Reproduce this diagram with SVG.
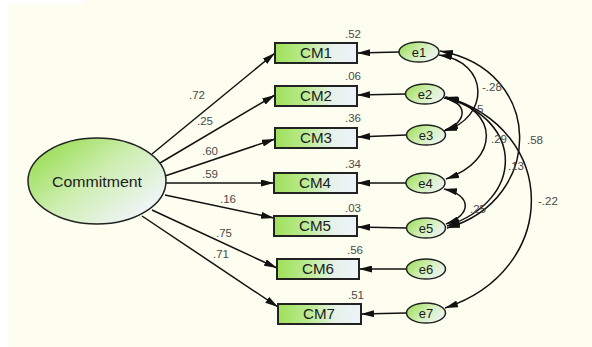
<svg xmlns="http://www.w3.org/2000/svg" width="592" height="347" viewBox="0 0 592 347">
  <defs>
    <linearGradient id="boxFill" x1="0" y1="0" x2="1" y2="0">
      <stop offset="0" stop-color="#9fe05a"/>
      <stop offset="0.35" stop-color="#b9ea8c"/>
      <stop offset="0.7" stop-color="#e6f2ea"/>
      <stop offset="1" stop-color="#eef3fb"/>
    </linearGradient>
    <linearGradient id="latentFill" x1="0.05" y1="0.25" x2="0.85" y2="0.9">
      <stop offset="0" stop-color="#9fdf5e"/>
      <stop offset="0.45" stop-color="#cdeeb0"/>
      <stop offset="1" stop-color="#f1f5fa"/>
    </linearGradient>
    <linearGradient id="errFill" x1="0" y1="0.3" x2="1" y2="0.8">
      <stop offset="0" stop-color="#a3e064"/>
      <stop offset="0.5" stop-color="#d4f0bc"/>
      <stop offset="1" stop-color="#f0f4fa"/>
    </linearGradient>
    <marker id="head" viewBox="0 0 13 7" refX="13" refY="3.5" markerWidth="13" markerHeight="7" markerUnits="userSpaceOnUse" orient="auto-start-reverse">
      <path d="M0,0 L13,3.5 L0,7 z" fill="#111"/>
    </marker>
    <style>
      .box { fill: url(#boxFill); stroke: #222; stroke-width: 2; }
      .latent { fill: url(#latentFill); stroke: #222; stroke-width: 1.5; }
      .err { fill: url(#errFill); stroke: #222; stroke-width: 1.5; }
      .lbl { font-family: "Liberation Sans", Arial, sans-serif; fill: #1c1c1c; }
      .num { font-family: "Liberation Sans", Arial, sans-serif; font-size: 11.5px; fill: #4a4a4a; }
      .path { fill: none; stroke: #111; stroke-width: 1.5; marker-end: url(#head); }
      .cov { fill: none; stroke: #111; stroke-width: 1.5; marker-start: url(#head); marker-end: url(#head); }
    </style>
  </defs>

  <!-- canvas -->
  <rect x="0" y="0" width="592" height="347" fill="#ffffff"/>
  <rect x="8" y="0" width="584" height="347" fill="#fdfdf0"/>
  <rect x="0" y="0" width="83" height="4" fill="#ffffff"/>

  <!-- connectors -->
  <g id="connectors">
    <!-- factor loadings -->
    <line class="path" x1="152" y1="154" x2="275" y2="53"/>
    <line class="path" x1="160" y1="163" x2="275" y2="95"/>
    <line class="path" x1="165" y1="176" x2="275" y2="139"/>
    <line class="path" x1="166" y1="183" x2="274" y2="183"/>
    <line class="path" x1="165" y1="195" x2="274" y2="218"/>
    <line class="path" x1="152" y1="210" x2="277" y2="268"/>
    <line class="path" x1="142" y1="216" x2="278" y2="307"/>
    <!-- error terms -->
    <line class="path" x1="399" y1="52" x2="357" y2="53"/>
    <line class="path" x1="406" y1="94" x2="357" y2="95"/>
    <line class="path" x1="406" y1="135" x2="357" y2="137"/>
    <line class="path" x1="406" y1="183" x2="357" y2="183"/>
    <line class="path" x1="406" y1="228" x2="357" y2="227"/>
    <line class="path" x1="406" y1="269" x2="359" y2="269"/>
    <line class="path" x1="406" y1="313" x2="361" y2="314"/>
    <!-- error covariances -->
    <path class="cov" d="M439,55 C490,62 490,118 444,131"/>
    <path class="cov" d="M444,98 C468,102 468,122 445,130"/>
    <path class="cov" d="M445,97 C500,110 500,160 446,179"/>
    <path class="cov" d="M446,98 C525,120 525,200 447,226"/>
    <path class="cov" d="M440,51 C545,70 545,200 447,228"/>
    <path class="cov" d="M444,189 C472,195 472,215 446,224"/>
    <path class="cov" d="M446,97 C560,130 560,270 445,308"/>
  </g>

  <!-- loading labels -->
  <g id="loadings">
    <text class="num" x="189" y="99">.72</text>
    <text class="num" x="197" y="125">.25</text>
    <text class="num" x="202" y="155">.60</text>
    <text class="num" x="202" y="178">.59</text>
    <text class="num" x="220" y="203">.16</text>
    <text class="num" x="216" y="237">.75</text>
    <text class="num" x="213" y="258">.71</text>
  </g>

  <!-- covariance labels -->
  <g id="covariances">
    <text class="num" x="482" y="91">-.28</text>
    <text class="num" x="477" y="113">5</text>
    <text class="num" x="491" y="143">.29</text>
    <text class="num" x="527" y="144">.58</text>
    <text class="num" x="508" y="170">.13</text>
    <text class="num" x="470" y="213">.25</text>
    <text class="num" x="538" y="205">-.22</text>
  </g>

  <g id="Commitment">
    <ellipse class="latent" cx="97" cy="181" rx="69" ry="43"/>
    <text class="lbl" x="97" y="187" font-size="14.5" text-anchor="middle" textLength="90" lengthAdjust="spacingAndGlyphs">Commitment</text>
  </g>

  <g id="CM1">
    <rect class="box" x="275" y="43" width="82" height="20"/>
    <text class="lbl" x="316" y="58" font-size="14" text-anchor="middle" textLength="32" lengthAdjust="spacingAndGlyphs">CM1</text>
    <text class="num" x="345" y="38">.52</text>
  </g>
  <g id="CM2">
    <rect class="box" x="275" y="86" width="82" height="20"/>
    <text class="lbl" x="316" y="101" font-size="14" text-anchor="middle" textLength="32" lengthAdjust="spacingAndGlyphs">CM2</text>
    <text class="num" x="345" y="80">.06</text>
  </g>
  <g id="CM3">
    <rect class="box" x="275" y="128" width="82" height="20"/>
    <text class="lbl" x="316" y="143" font-size="14" text-anchor="middle" textLength="32" lengthAdjust="spacingAndGlyphs">CM3</text>
    <text class="num" x="345" y="122">.36</text>
  </g>
  <g id="CM4">
    <rect class="box" x="274" y="173" width="83" height="20"/>
    <text class="lbl" x="315" y="188" font-size="14" text-anchor="middle" textLength="32" lengthAdjust="spacingAndGlyphs">CM4</text>
    <text class="num" x="345" y="168">.34</text>
  </g>
  <g id="CM5">
    <rect class="box" x="274" y="216" width="83" height="20"/>
    <text class="lbl" x="315" y="231" font-size="14" text-anchor="middle" textLength="32" lengthAdjust="spacingAndGlyphs">CM5</text>
    <text class="num" x="345" y="212">.03</text>
  </g>
  <g id="CM6">
    <rect class="box" x="277" y="259" width="82" height="20"/>
    <text class="lbl" x="318" y="274" font-size="14" text-anchor="middle" textLength="32" lengthAdjust="spacingAndGlyphs">CM6</text>
    <text class="num" x="347" y="254">.56</text>
  </g>
  <g id="CM7">
    <rect class="box" x="278" y="304" width="83" height="20"/>
    <text class="lbl" x="319" y="319" font-size="14" text-anchor="middle" textLength="32" lengthAdjust="spacingAndGlyphs">CM7</text>
    <text class="num" x="348" y="299">.51</text>
  </g>

  <g id="e1">
    <ellipse class="err" cx="419" cy="52" rx="20" ry="10"/>
    <text class="lbl" x="419" y="57" font-size="13" text-anchor="middle">e1</text>
  </g>
  <g id="e2">
    <ellipse class="err" cx="425" cy="94" rx="19.5" ry="10"/>
    <text class="lbl" x="425" y="99" font-size="13" text-anchor="middle">e2</text>
  </g>
  <g id="e3">
    <ellipse class="err" cx="426" cy="135" rx="19.5" ry="10"/>
    <text class="lbl" x="426" y="140" font-size="13" text-anchor="middle">e3</text>
  </g>
  <g id="e4">
    <ellipse class="err" cx="425.5" cy="183" rx="19.5" ry="10"/>
    <text class="lbl" x="425.5" y="188" font-size="13" text-anchor="middle">e4</text>
  </g>
  <g id="e5">
    <ellipse class="err" cx="426" cy="228" rx="19.5" ry="10"/>
    <text class="lbl" x="426" y="233" font-size="13" text-anchor="middle">e5</text>
  </g>
  <g id="e6">
    <ellipse class="err" cx="426" cy="269" rx="19.5" ry="10"/>
    <text class="lbl" x="426" y="274" font-size="13" text-anchor="middle">e6</text>
  </g>
  <g id="e7">
    <ellipse class="err" cx="426" cy="313" rx="19.5" ry="10"/>
    <text class="lbl" x="426" y="318" font-size="13" text-anchor="middle">e7</text>
  </g>
</svg>
